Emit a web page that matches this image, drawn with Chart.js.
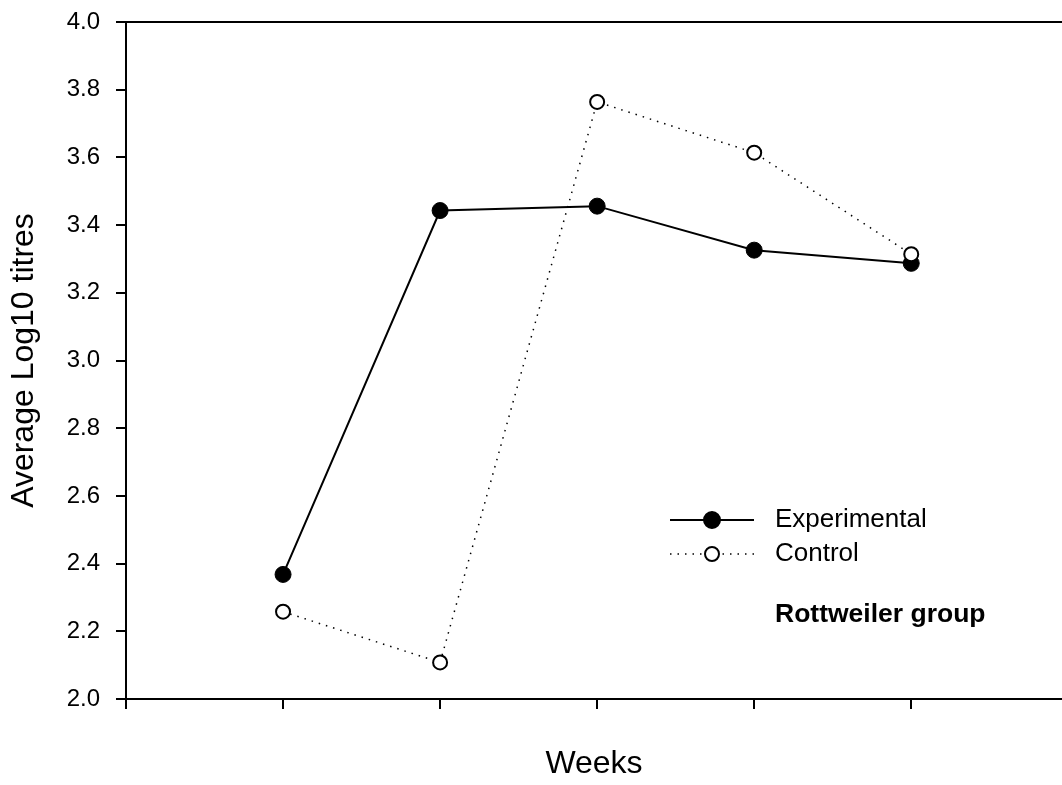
<!DOCTYPE html>
<html>
<head>
<meta charset="utf-8">
<script src="https://cdn.jsdelivr.net/npm/chart.js@4/dist/chart.umd.min.js"></script>
<style>
  body { margin: 0; background: #fff; }
  canvas { display: block; }
</style>
</head>
<body>
<canvas id="chart" width="1062" height="785"></canvas>
<script>
// values
var weeks = [1, 2, 3, 4, 5];
var experimental = [2.368, 3.443, 3.456, 3.326, 3.287];
var control = [2.258, 2.108, 3.764, 3.614, 3.314];
var xTicks = [0, 1, 2, 3, 4, 5];
var yTicks = [2.0, 2.2, 2.4, 2.6, 2.8, 3.0, 3.2, 3.4, 3.6, 3.8, 4.0];

var FONT = "'Liberation Sans', Arial, sans-serif";

function toPoints(vals) {
    return weeks.map(function (w, i) {
        return { x: w, y: vals[i] };
    });
}

// top frame line + legend box + group label
var extras = {
    id: 'extras',
    afterDraw: function (chart) {
        var ctx = chart.ctx;
        var area = chart.chartArea;
        ctx.save();
        ctx.strokeStyle = '#000';
        ctx.lineWidth = 2;
        ctx.beginPath();
        ctx.moveTo(area.left - 1, area.top);
        ctx.lineTo(area.right, area.top);
        ctx.stroke();

        // legend
        var lx0 = 670, lx1 = 754, mx = 712, tx = 775;
        var rows = [
            { y: 520, label: 'Experimental', dash: [], fill: '#000', r: 8 },
            { y: 554, label: 'Control', dash: [1.5, 6], fill: '#fff', r: 7 }
        ];
        rows.forEach(function (row) {
            ctx.setLineDash(row.dash);
            ctx.lineWidth = row.dash.length ? 1.5 : 2;
            ctx.beginPath();
            ctx.moveTo(lx0, row.y);
            ctx.lineTo(lx1, row.y);
            ctx.stroke();
            ctx.setLineDash([]);
            ctx.beginPath();
            ctx.arc(mx, row.y, row.r, 0, Math.PI * 2);
            ctx.fillStyle = row.fill;
            ctx.fill();
            ctx.lineWidth = 2;
            ctx.stroke();
            ctx.fillStyle = '#000';
            ctx.font = '26px ' + FONT;
            ctx.textAlign = 'left';
            ctx.textBaseline = 'middle';
            ctx.fillText(row.label, tx, row.y);
        });
        ctx.font = 'bold 26.5px ' + FONT;
        ctx.fillText('Rottweiler group', tx, 615);
        ctx.restore();
    }
};

var chart = new Chart('chart', {
    type: 'line',
    data: {
        datasets: [
            {
                label: 'Control',
                data: toPoints(control),
                borderColor: '#000',
                borderWidth: 1.5,
                borderDash: [1.5, 6],
                pointRadius: 7,
                pointBorderWidth: 2,
                pointBackgroundColor: '#fff',
                pointBorderColor: '#000',
                order: 0
            },
            {
                label: 'Experimental',
                data: toPoints(experimental),
                borderColor: '#000',
                borderWidth: 2,
                pointRadius: 8,
                pointBorderWidth: 1,
                pointBackgroundColor: '#000',
                pointBorderColor: '#000',
                order: 1
            }
        ]
    },
    options: {
        responsive: false,
        animation: false,
        layout: { autoPadding: false, padding: { top: 22, right: 0, left: 0, bottom: 0 } },
        plugins: {
            legend: { display: false },
            tooltip: { enabled: false }
        },
        scales: {
            x: {
                type: 'linear',
                min: 0,
                max: 5.96,
                afterFit: function (s) {
                    s.height = 86;
                    s.paddingLeft = 0;
                    s.paddingRight = 0;
                },
                afterBuildTicks: function (s) {
                    s.ticks = xTicks.map(function (v) { return { value: v }; });
                },
                ticks: { display: false },
                grid: {
                    drawOnChartArea: false,
                    tickLength: 10,
                    color: '#000',
                    lineWidth: 2
                },
                border: { color: '#000', width: 2 },
                title: {
                    display: true,
                    text: 'Weeks',
                    color: '#000',
                    font: { family: FONT, size: 32 },
                    padding: { top: 0, bottom: 2 }
                }
            },
            y: {
                min: 2,
                max: 4,
                afterFit: function (s) {
                    s.width = 126;
                    s.paddingTop = 0;
                    s.paddingBottom = 0;
                },
                afterBuildTicks: function (s) {
                    s.ticks = yTicks.map(function (v) { return { value: v }; });
                },
                ticks: {
                    padding: 16,
                    color: '#000',
                    font: { family: FONT, size: 24 },
                    callback: function (v) { return Number(v).toFixed(1); }
                },
                grid: {
                    drawOnChartArea: false,
                    tickLength: 10,
                    color: '#000',
                    lineWidth: 2
                },
                border: { color: '#000', width: 2 },
                title: {
                    display: true,
                    text: 'Average Log10 titres',
                    color: '#000',
                    font: { family: FONT, size: 32 },
                    padding: { top: 5, bottom: 0 }
                }
            }
        }
    },
    plugins: [extras]
});
</script>
</body>
</html>
